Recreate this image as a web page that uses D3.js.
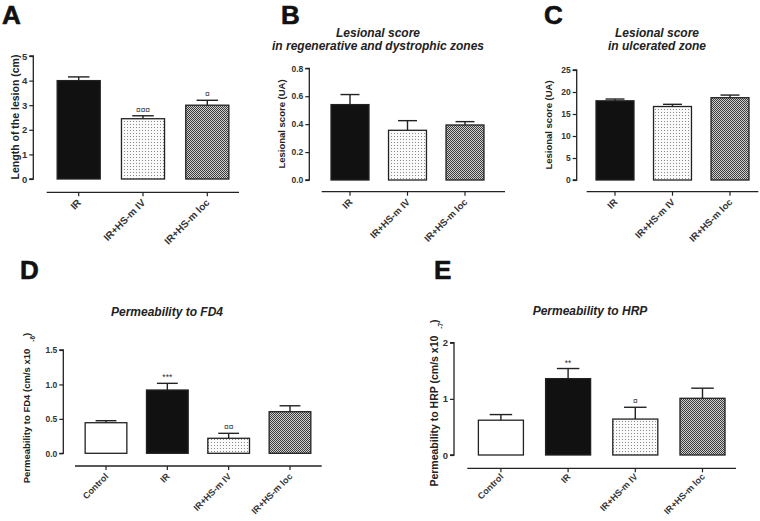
<!DOCTYPE html>
<html><head><meta charset="utf-8">
<script src="https://cdn.jsdelivr.net/npm/d3@7"></script>
<style>
html,body{margin:0;padding:0;background:#fff;}
svg{display:block;font-family:"Liberation Sans",Arial,sans-serif;}
</style></head>
<body>
<svg id="chart" width="760" height="521"></svg>
<script>
// ---------- data ----------
const catsABC = ["IR", "IR+HS-m IV", "IR+HS-m loc"];
const catsDE = ["Control", "IR", "IR+HS-m IV", "IR+HS-m loc"];

const lesionLength = [4.0, 2.45, 3.0];
const lesionLengthErr = [0.15, 0.12, 0.2];
const lesionLengthMarks = ["", "¤¤¤", "¤"];

const scoreRegen = [0.54, 0.356, 0.394];
const scoreRegenErr = [0.072, 0.069, 0.024];

const scoreUlcer = [18.0, 16.7, 18.7];
const scoreUlcerErr = [0.4, 0.5, 0.6];

const permFD4 = [0.444, 0.919, 0.218, 0.604];
const permFD4Err = [0.029, 0.097, 0.072, 0.086];
const permFD4Marks = ["", "***", "¤¤", ""];

const permHRP = [0.62, 1.36, 0.64, 1.01];
const permHRPErr = [0.10, 0.18, 0.21, 0.18];
const permHRPMarks = ["", "**", "¤", ""];

const ticksA = [0, 1, 2, 3, 4, 5];
const ticksB = [0, 0.2, 0.4, 0.6, 0.8];
const ticksC = [0, 5, 10, 15, 20, 25];
const ticksD = [0, 0.5, 1.0, 1.5];
const ticksE = [0, 1, 2];

// ---------- drawing ----------
const svg = d3.select("#chart");
const defs = svg.append("defs");

const pDot = defs.append("pattern").attr("id", "dots").attr("patternUnits", "userSpaceOnUse")
  .attr("width", 3).attr("height", 3);
pDot.append("rect").attr("width", 3).attr("height", 3).attr("fill", "#fafafa");
pDot.append("rect").attr("x", 1).attr("y", 1).attr("width", 1).attr("height", 1).attr("fill", "#8a8a8a");

const pChk = defs.append("pattern").attr("id", "check").attr("patternUnits", "userSpaceOnUse")
  .attr("width", 2).attr("height", 2);
pChk.append("rect").attr("width", 2).attr("height", 2).attr("fill", "#d0d0d0");
pChk.append("rect").attr("x", 0).attr("y", 0).attr("width", 1).attr("height", 1).attr("fill", "#3a3a3a");
pChk.append("rect").attr("x", 1).attr("y", 1).attr("width", 1).attr("height", 1).attr("fill", "#3a3a3a");

const fills = {
  "Control": "#ffffff",
  "IR": "#111111",
  "IR+HS-m IV": "url(#dots)",
  "IR+HS-m loc": "url(#check)"
};

function panel(o) {
  const g = svg.append("g");
  const y = d3.scaleLinear().domain(o.domain).range([o.y0, o.y1]);
  const x = d3.scaleBand().domain(o.cats).range(o.band).paddingInner(o.pad).paddingOuter(o.pad / 2);

  // panel letter
  g.append("text").attr("x", o.letter[0]).attr("y", o.letter[1]).text(o.letterText)
    .attr("font-size", 26).attr("font-weight", "bold").attr("fill", "#111")
    .attr("stroke", "#111").attr("stroke-width", 0.6);

  // title
  if (o.title) {
    o.title.forEach((t, i) => {
      g.append("text").attr("x", o.titleX).attr("y", o.titleY + i * 12.5).text(t)
        .attr("text-anchor", "middle").attr("font-size", 12).attr("font-weight", "bold")
        .attr("font-style", "italic").attr("fill", "#222");
    });
  }

  // y axis
  const yAx = d3.axisLeft(y).tickValues(o.ticks).tickSize(4).tickPadding(2)
    .tickFormat(o.fmt);
  const ya = g.append("g").attr("transform", `translate(${o.yAxisX},0)`).call(yAx);
  ya.select(".domain").attr("d", `M-4,${o.y1}H0V${o.y0}H-4`).attr("stroke", "#222").attr("stroke-width", 1.3);
  ya.selectAll(".tick line").attr("stroke", "#222").attr("stroke-width", 1.2);
  ya.selectAll(".tick text").attr("font-size", o.tickSize || 8.5).attr("font-weight", "bold").attr("fill", "#333")
    .attr("font-family", "'Liberation Sans',Arial,sans-serif");

  // y label
  const yl = g.append("text")
    .attr("transform", `translate(${o.ylabX},${o.ylabY}) rotate(-90)`)
    .attr("text-anchor", "middle").attr("font-size", o.ylabSize || 10.5).attr("fill", "#222")
    .attr("font-weight", "bold");
  if (o.ylabSup) {
    yl.append("tspan").text(o.ylabel);
    yl.append("tspan").text(o.ylabSup).attr("font-size", 6.5).attr("dx", 7).attr("dy", 5);
    yl.append("tspan").text(")").attr("dy", -5);
  } else {
    yl.text(o.ylabel);
  }

  // x axis
  const xAx = d3.axisBottom(x).tickSize(4).tickFormat("");
  const xa = g.append("g").attr("transform", `translate(0,${o.xAxisY})`).call(xAx);
  xa.select(".domain").attr("d", `M${o.xLine[0]},0H${o.xLine[1]}`).attr("stroke", "#222").attr("stroke-width", 1.3);
  xa.selectAll(".tick line").attr("stroke", "#222").attr("stroke-width", 1.2);

  // category labels
  g.selectAll(".cat").data(o.cats).join("text")
    .attr("transform", d => `translate(${x(d) + x.bandwidth() / 2 + 3},${o.xAxisY + (o.catOff || 11)}) rotate(-45)`)
    .attr("text-anchor", "end").attr("font-size", o.catSize || 9.5).attr("font-weight", "bold").attr("fill", "#333")
    .text(d => d);

  // error bars (upper only)
  const eg = g.append("g").attr("stroke", "#222").attr("stroke-width", 1.4);
  o.cats.forEach((c, i) => {
    const cx = x(c) + x.bandwidth() / 2;
    const top = y(o.values[i] + o.errs[i]);
    eg.append("line").attr("x1", cx).attr("x2", cx).attr("y1", y(o.values[i])).attr("y2", top);
    eg.append("line").attr("x1", cx - x.bandwidth() / 4).attr("x2", cx + x.bandwidth() / 4)
      .attr("y1", top).attr("y2", top);
  });

  // bars
  g.selectAll(".bar").data(o.cats).join("rect")
    .attr("x", d => x(d)).attr("width", x.bandwidth())
    .attr("y", (d, i) => y(o.values[i]))
    .attr("height", (d, i) => y(0) - y(o.values[i]))
    .attr("fill", d => fills[d]).attr("stroke", "#222").attr("stroke-width", 1.3);

  // annotations
  if (o.marks) {
    o.cats.forEach((c, i) => {
      if (!o.marks[i]) return;
      const cx = x(c) + x.bandwidth() / 2;
      g.append("text").attr("x", cx).attr("y", y(o.values[i] + o.errs[i]) - 3)
        .attr("text-anchor", "middle").attr("font-size", 8.5)
        .attr("fill", "#333").text(o.marks[i]);
    });
  }
}

panel({
  cats: catsABC, values: lesionLength, errs: lesionLengthErr, marks: lesionLengthMarks,
  domain: [0, 5], ticks: ticksA, fmt: d3.format("d"), y0: 179, y1: 56,
  band: [46.55, 239.45], pad: 0.33, yAxisX: 33.3, xAxisY: 192.3, xLine: [46.7, 239],
  letter: [2, 24], letterText: "A", tickSize: 9.5, catSize: 10,
  ylabel: "Length of the lesion (cm)", ylabX: 19, ylabY: 117, ylabSize: 10.5
});

panel({
  cats: catsABC, values: scoreRegen, errs: scoreRegenErr,
  domain: [0, 0.8], ticks: ticksB, fmt: d3.format(".1f"), y0: 180, y1: 68.3,
  band: [321.25, 493.75], pad: 0.34, yAxisX: 309.3, xAxisY: 191.7, xLine: [321.7, 505],
  letter: [281, 24], letterText: "B", catSize: 9.5,
  title: ["Lesional score", "in regenerative and dystrophic zones"], titleX: 378, titleY: 37,
  ylabel: "Lesional score (UA)", ylabX: 285, ylabY: 124, ylabSize: 9.5
});

panel({
  cats: catsABC, values: scoreUlcer, errs: scoreUlcerErr,
  domain: [0, 25], ticks: ticksC, fmt: d3.format("d"), y0: 180, y1: 70,
  band: [586.25, 758.75], pad: 0.34, yAxisX: 576.7, xAxisY: 191.7, xLine: [586.7, 758.3],
  letter: [544, 24], letterText: "C", catSize: 9.5,
  title: ["Lesional score", "in ulcerated zone"], titleX: 657, titleY: 37,
  ylabel: "Lesional score (UA)", ylabX: 552, ylabY: 125, ylabSize: 9.5
});

panel({
  cats: catsDE, values: permFD4, errs: permFD4Err, marks: permFD4Marks,
  domain: [0, 1.5], ticks: ticksD, fmt: d3.format(".1f"), y0: 453.3, y1: 350,
  band: [75.35, 320.65], pad: 0.32, yAxisX: 63.3, xAxisY: 466, xLine: [75, 321.7],
  letter: [20, 279], letterText: "D", catSize: 9,
  title: ["Permeability to FD4"], titleX: 167, titleY: 316,
  ylabel: "Permeability to FD4 (cm/s x10", ylabSup: "-6", ylabX: 30, ylabY: 408, ylabSize: 9.5
});

panel({
  cats: catsDE, values: permHRP, errs: permHRPErr, marks: permHRPMarks,
  domain: [0, 2], ticks: ticksE, fmt: d3.format("d"), y0: 455, y1: 342.7,
  band: [467.3, 736.1], pad: 0.33, yAxisX: 454, xAxisY: 468.3, xLine: [467.3, 736],
  letter: [434, 279], letterText: "E", tickSize: 9.5, catSize: 9, catOff: 9,
  title: ["Permeability to HRP"], titleX: 590, titleY: 315,
  ylabel: "Permeability to HRP (cm/s x10", ylabSup: "-7", ylabX: 438, ylabY: 403, ylabSize: 10.5
});
</script>
</body></html>
